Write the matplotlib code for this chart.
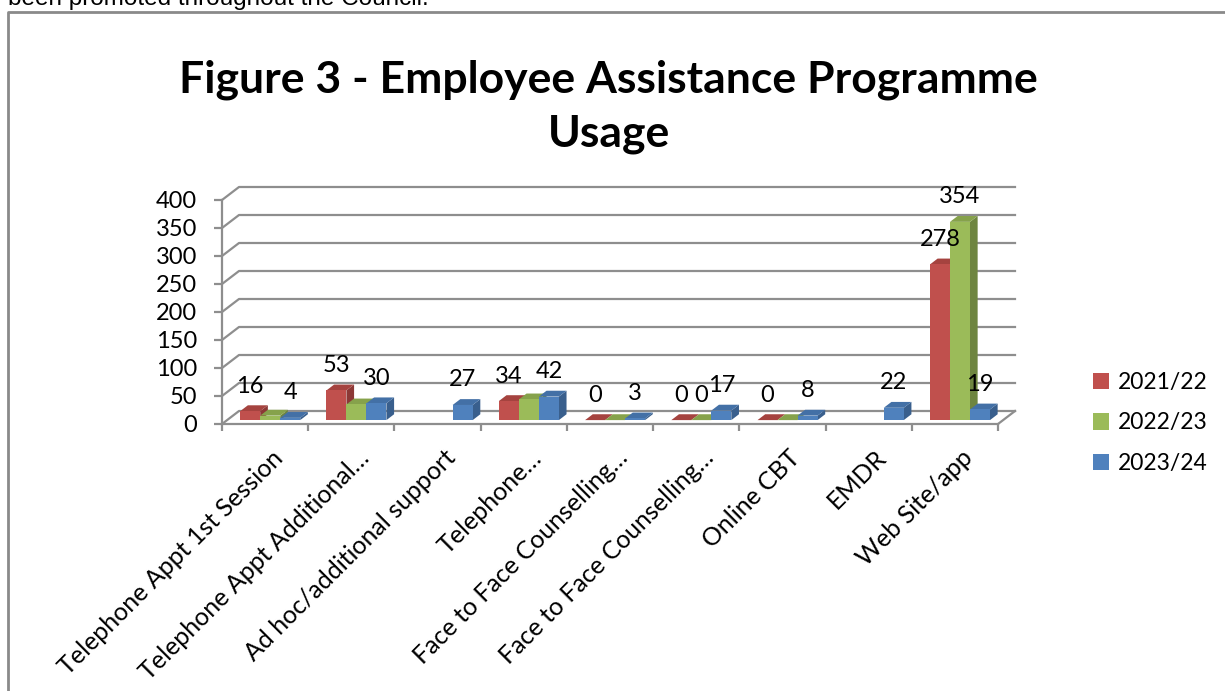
import numpy as np
import matplotlib
matplotlib.use('Agg')
import matplotlib.pyplot as plt
from matplotlib.patches import Polygon, Patch
from matplotlib.lines import Line2D

OUTPUT_FILE = 'out.png'

CATEGORIES = ['Telephone Appt 1st Session', 'Telephone Appt Additional…',
              'Ad hoc/additional support', 'Telephone…',
              'Face to Face Counselling…', 'Face to Face Counselling…',
              'Online CBT', 'EMDR', 'Web Site/app']
SERIES = ['2021/22', '2022/23', '2023/24']

nan = np.nan
V_2122 = [16, 53, nan, 34, 0, 0, 0, nan, 278]
V_2223 = [8, 28, nan, 37, 0, 0, 0, nan, 354]
V_2324 = [4, 30, 27, 42, 3, 17, 8, 22, 19]

# data labels that are actually shown on the chart ('' = hidden)
L_2122 = ['16', '53', '', '34', '0', '0', '0', '', '278']
L_2223 = ['', '', '', '', '', '0', '', '', '354']
L_2324 = ['4', '30', '27', '42', '3', '17', '8', '22', '19']

Y_TICKS = [0, 50, 100, 150, 200, 250, 300, 350, 400]

# front, top, side colours
COLORS = [('#C0504D', '#A5433F', '#8C3836'),
          ('#9BBB59', '#86A24B', '#6E8540'),
          ('#4F81BD', '#4370A6', '#395F8D')]

W, H = 1225, 691
fig = plt.figure(figsize=(W / 100, H / 100), dpi=100)

# plot area in pixels (front plane + room for the 3d depth)
LEFT, RIGHT_FRONT, RIGHT_BACK = 222, 998, 1015
BOTTOM, TOP_FRONT, TOP_BACK = 424, 200, 187
ax = fig.add_axes([LEFT / W, (H - BOTTOM) / H, (RIGHT_BACK - LEFT) / W, (BOTTOM - TOP_BACK) / H])

n = len(CATEGORIES)
cat_px = (RIGHT_FRONT - LEFT) / n
unit_px = (BOTTOM - TOP_FRONT) / 400
DX = (RIGHT_BACK - RIGHT_FRONT) / cat_px
DY = (TOP_FRONT - TOP_BACK) / unit_px
ax.set_xlim(-0.5, n - 0.5 + DX)
ax.set_ylim(0, 400 + DY)

grid_kw = dict(color='#8E8E8E', lw=1.6, clip_on=False, zorder=1)
# gridlines on the left wall and back wall
for v in Y_TICKS:
    ax.plot([-0.5, -0.5 + DX, n - 0.5 + DX], [v, v + DY, v + DY], **grid_kw)
# floor right edge
ax.plot([n - 0.5, n - 0.5 + DX], [0, DY], **grid_kw)

# spines / ticks
for s in ['top', 'right']:
    ax.spines[s].set_visible(False)
ax.spines['left'].set_bounds(0, 400)
ax.spines['bottom'].set_bounds(-0.5, n - 0.5)
for s in ['left', 'bottom']:
    ax.spines[s].set_color('#8E8E8E')
    ax.spines[s].set_linewidth(1.6)
ax.set_yticks(Y_TICKS)
ax.set_yticklabels([str(t) for t in Y_TICKS], fontsize=17, family='Lato')
ax.set_xticks(np.arange(-0.5, n, 1))
ax.set_xticklabels([])
ax.tick_params(axis='y', length=6, width=1.6, color='#8E8E8E', pad=12)
ax.tick_params(axis='x', length=5, width=1.6, color='#8E8E8E')
ax.patch.set_visible(False)

# 3d bars
BAR_W = 0.232
F0 = 0.3       # bar front plane position in the depth
BD = 0.45      # bar depth as part of the whole depth
bx, by = F0 * DX, F0 * DY
ddx, ddy = BD * DX, BD * DY

all_vals = [V_2122, V_2223, V_2324]
all_labs = [L_2122, L_2223, L_2324]
for i in range(n):
    for k in range(3):
        v = all_vals[k][i]
        if np.isnan(v):
            continue
        front, top, side = COLORS[k]
        x0 = i + (k - 1.5) * BAR_W + bx
        x1 = x0 + BAR_W
        y0 = by
        y1 = by + v
        ax.add_patch(Polygon([(x1, y0), (x1 + ddx, y0 + ddy), (x1 + ddx, y1 + ddy), (x1, y1)],
                             closed=True, facecolor=side, edgecolor='none', zorder=3, clip_on=False))
        ax.add_patch(Polygon([(x0, y1), (x1, y1), (x1 + ddx, y1 + ddy), (x0 + ddx, y1 + ddy)],
                             closed=True, facecolor=top, edgecolor='none', zorder=3, clip_on=False))
        ax.bar(x0, v, BAR_W, bottom=y0, align='edge', color=front, zorder=3, clip_on=False)
        lab = all_labs[k][i]
        if lab:
            ax.annotate(lab, xy=(x0 + BAR_W / 2, y1), xytext=(0, 25), textcoords='offset pixels',
                        ha='center', va='center', fontsize=17, family='Lato', zorder=5)

# category labels
for i, c in enumerate(CATEGORIES):
    ax.annotate(c, xy=(i, 0), xytext=(6, -22), textcoords='offset pixels',
                ha='right', va='top', rotation=45, rotation_mode='anchor',
                fontsize=18, family='Lato')

# legend
handles = [Patch(facecolor=COLORS[k][0], edgecolor='none') for k in range(3)]
fig.legend(handles, SERIES, loc='center left', bbox_to_anchor=(1072 / W, 1 - 423 / H),
           frameon=False, prop={'family': 'Lato', 'size': 16.5},
           handlelength=0.7, handleheight=0.7, handletextpad=0.4, labelspacing=0.85)

# title
fig.text(608 / W, 1 - 92 / H, 'Figure 3 - Employee Assistance Programme', ha='center', va='baseline',
         fontsize=32, fontweight='bold', family='Lato')
fig.text(609 / W, 1 - 146 / H, 'Usage', ha='center', va='baseline',
         fontsize=32, fontweight='bold', family='Lato')

# text of the document cut off above the chart frame
fig.text(8 / W, 1 - 5 / H, 'been promoted throughout the Council.', ha='left', va='baseline',
         fontsize=17.5, family='Liberation Sans')

# chart frame
fig.add_artist(Line2D([7.5 / W, 7.5 / W, 1.0], [0, 1 - 11.5 / H, 1 - 11.5 / H],
                      transform=fig.transFigure, color='#8A8A8A', lw=2))

plt.savefig(OUTPUT_FILE, dpi=100)
